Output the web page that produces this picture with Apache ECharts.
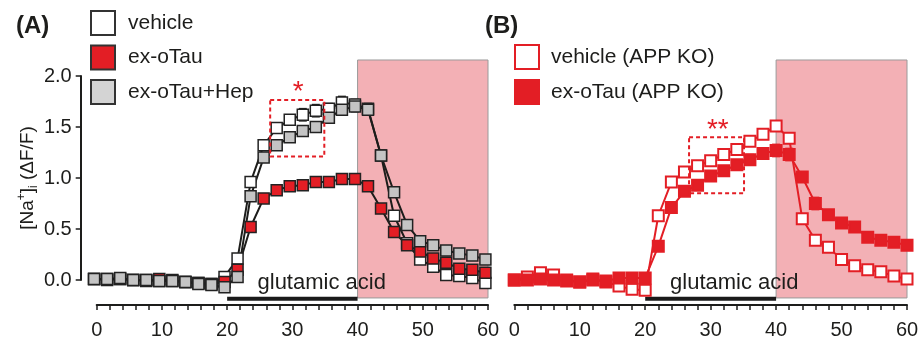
<!DOCTYPE html>
<html><head><meta charset="utf-8">
<script src="https://cdn.jsdelivr.net/npm/echarts@6/dist/echarts.min.js"></script>
<style>html,body{margin:0;padding:0;background:#fff}#c{width:921px;height:346px}</style>
</head><body><div id="c"></div>
<script>
// ---- data ----
const timeA = [-0.4,1.6,3.6,5.6,7.6,9.6,11.6,13.6,15.6,17.6,19.6,21.6,23.6,25.6,27.6,29.6,31.6,33.6,35.6,37.6,39.6,41.6,43.6,45.6,47.6,49.6,51.6,53.6,55.6,57.6,59.6];
const timeB = [0,2,4,6,8,10,12,14,16,18,20,22,24,26,28,30,32,34,36,38,40,42,44,46,48,50,52,54,56,58,60];
const xTicks = [0,10,20,30,40,50,60];
const yTicks = [0.0,0.5,1.0,1.5,2.0];

const vehicleA = [0.01,0.01,0.01,0.00,0.00,-0.01,-0.01,-0.02,-0.03,-0.04,0.03,0.21,0.96,1.32,1.49,1.57,1.62,1.66,1.68,1.74,1.72,1.68,1.22,0.63,0.36,0.20,0.13,0.05,0.04,0.02,-0.03];
const vehicleAErr = [0.01,0.01,0.01,0.01,0.01,0.01,0.01,0.01,0.01,0.01,0.01,0.03,0.04,0.04,0.05,0.05,0.06,0.06,0.05,0.06,0.05,0.05,0.04,0.04,0.03,0.02,0.02,0.02,0.02,0.02,0.02];
const oTauA = [0.01,0.00,0.01,0.00,-0.01,0.01,0.00,-0.02,-0.03,-0.04,-0.02,0.10,0.52,0.80,0.88,0.92,0.93,0.96,0.96,0.99,0.99,0.92,0.70,0.47,0.34,0.28,0.21,0.17,0.11,0.10,0.07];
const oTauAErr = [0.01,0.01,0.01,0.01,0.01,0.01,0.01,0.01,0.01,0.01,0.01,0.02,0.03,0.04,0.04,0.04,0.05,0.05,0.05,0.05,0.05,0.04,0.04,0.03,0.03,0.02,0.02,0.02,0.02,0.02,0.02];
const hepA = [0.01,0.01,0.02,0.00,0.00,-0.01,-0.01,-0.02,-0.04,-0.05,-0.07,0.03,0.82,1.20,1.32,1.40,1.46,1.50,1.59,1.67,1.70,1.67,1.22,0.86,0.54,0.38,0.34,0.29,0.26,0.24,0.20];
const hepAErr = [0.01,0.01,0.01,0.01,0.01,0.01,0.01,0.01,0.01,0.01,0.01,0.02,0.03,0.03,0.03,0.04,0.04,0.04,0.04,0.05,0.05,0.05,0.05,0.03,0.02,0.02,0.02,0.02,0.02,0.02,0.02];

const vehicleB = [0.00,0.03,0.07,0.05,0.00,-0.02,0.01,-0.02,-0.06,-0.09,-0.10,0.63,0.96,1.06,1.12,1.17,1.23,1.28,1.36,1.43,1.51,1.39,0.60,0.39,0.32,0.20,0.14,0.10,0.08,0.04,0.01];
const vehicleBErr = [0.01,0.01,0.01,0.01,0.01,0.01,0.01,0.01,0.01,0.01,0.01,0.02,0.02,0.02,0.02,0.02,0.02,0.02,0.02,0.02,0.03,0.04,0.05,0.04,0.02,0.02,0.02,0.02,0.02,0.02,0.02];
const oTauB = [0.00,0.00,0.01,0.00,-0.01,-0.02,0.00,-0.01,0.02,0.02,0.02,0.33,0.71,0.87,0.93,1.02,1.07,1.13,1.18,1.24,1.27,1.23,1.01,0.75,0.64,0.56,0.52,0.42,0.39,0.37,0.34];
const oTauBErr = [0.01,0.01,0.01,0.01,0.01,0.01,0.01,0.01,0.01,0.01,0.01,0.02,0.03,0.03,0.04,0.04,0.04,0.04,0.05,0.05,0.06,0.06,0.05,0.06,0.03,0.02,0.02,0.02,0.02,0.02,0.02];

const namesA = ['vehicle','ex-oTau','ex-oTau+Hep'];
const namesB = ['vehicle (APP KO)','ex-oTau (APP KO)'];

// ---- build ----
const FONT = 'Liberation Sans, Arial, sans-serif';
const RED = '#e31e25';
const INK = '#1d1d1b';
const pts = (t, v) => t.map((x, i) => [x, v[i]]);
const errPts = (t, v, e) => t.map((x, i) => [x, v[i], e[i]]);

function errRender(color) {
  return function (params, api) {
    const x = api.value(0), y = api.value(1), e = api.value(2);
    const a = api.coord([x, y + e]), b = api.coord([x, y - e]);
    const w = 4, st = {stroke: color, lineWidth: 1.5};
    return {type: 'group', children: [
      {type: 'line', shape: {x1: a[0], y1: a[1], x2: b[0], y2: b[1]}, style: st},
      {type: 'line', shape: {x1: a[0]-w, y1: a[1], x2: a[0]+w, y2: a[1]}, style: st},
      {type: 'line', shape: {x1: b[0]-w, y1: b[1], x2: b[0]+w, y2: b[1]}, style: st}
    ]};
  };
}
function shadeRender(params, api) {
  const p0 = api.coord([api.value(0), api.value(3)]);
  const p1 = api.coord([api.value(1), api.value(2)]);
  return {type: 'rect', shape: {x: p0[0], y: p0[1], width: p1[0]-p0[0], height: p1[1]-p0[1]},
          style: {fill: '#f3b0b5', stroke: '#9a9a9a', lineWidth: 1}};
}
function barRender(params, api) {
  const a = api.coord([api.value(0), api.value(2)]);
  const b = api.coord([api.value(1), api.value(2)]);
  return {type: 'line', shape: {x1: a[0], y1: a[1], x2: b[0], y2: b[1]}, style: {stroke: '#1a1a1a', lineWidth: 4}};
}
function textRender(params, api) {
  const p = api.coord([api.value(0), api.value(1)]);
  const star = api.value(3) === 1;
  return {type: 'text', x: p[0], y: p[1],
    style: {text: api.value(2), fill: star ? RED : INK, fontSize: star ? 28 : 22,
            fontFamily: FONT, align: 'center', verticalAlign: 'middle'}};
}
function boxRender(params, api) {
  const p0 = api.coord([api.value(0), api.value(3)]);
  const p1 = api.coord([api.value(1), api.value(2)]);
  return {type: 'rect', shape: {x: p0[0], y: p0[1], width: p1[0]-p0[0], height: p1[1]-p0[1]},
          style: {fill: 'none', stroke: RED, lineWidth: 2, lineDash: [4, 3]}};
}

function xAxisFor(gi) {
  return {gridIndex: gi, type: 'value', min: 0, max: 60, interval: 2, offset: 25,
    axisLine: {show: true, onZero: false, lineStyle: {color: INK, width: 2}},
    axisTick: {show: true, length: 5, interval: 0, lineStyle: {color: INK, width: 1.5}},
    axisLabel: {interval: 0, margin: 15, fontSize: 20, color: INK, fontFamily: FONT,
      formatter: v => xTicks.indexOf(v) >= 0 ? String(v) : ''},
    splitLine: {show: false}};
}

const lineCommon = {type: 'line', symbol: 'rect', symbolSize: 11, showAllSymbol: true, clip: false, z: 5, animation: false};

const option = {
  animation: false,
  backgroundColor: '#fff',
  title: [
    {text: '(A)', left: 11, top: 9, textStyle: {fontSize: 24, fontWeight: 'bold', color: INK, fontFamily: FONT}},
    {text: '(B)', left: 480, top: 9, textStyle: {fontSize: 24, fontWeight: 'bold', color: INK, fontFamily: FONT}}
  ],
  legend: [
    {left: 90, top: 10, orient: 'vertical', itemWidth: 24, itemHeight: 24, itemGap: 8.5, icon: 'rect', padding: 0,
     textStyle: {fontSize: 21, color: INK, fontFamily: FONT, padding: [0, 0, 0, 8]},
     data: [
       {name: namesA[0], itemStyle: {color: '#fff', borderColor: '#333', borderWidth: 2}},
       {name: namesA[1], itemStyle: {color: RED, borderColor: '#333', borderWidth: 2}},
       {name: namesA[2], itemStyle: {color: '#d4d4d4', borderColor: '#333', borderWidth: 2}}
     ]},
    {left: 514, top: 44, orient: 'vertical', itemWidth: 24, itemHeight: 24, itemGap: 9, icon: 'rect', padding: 0,
     textStyle: {fontSize: 21, color: INK, fontFamily: FONT, padding: [0, 0, 0, 7]},
     data: [
       {name: namesB[0], itemStyle: {color: '#fff', borderColor: RED, borderWidth: 2}},
       {name: namesB[1], itemStyle: {color: RED, borderColor: RED, borderWidth: 2}}
     ]}
  ],
  grid: [
    {left: 96.7, width: 391.3, top: 76, height: 204, containLabel: false, outerBoundsMode: 'none'},
    {left: 514.3, width: 392.7, top: 76, height: 204, containLabel: false, outerBoundsMode: 'none'}
  ],
  xAxis: [xAxisFor(0), xAxisFor(1)],
  yAxis: [
    {gridIndex: 0, type: 'value', min: 0, max: 2, interval: 0.5, offset: 16,
     axisLine: {show: true, onZero: false, lineStyle: {color: INK, width: 2}},
     axisTick: {show: true, length: 5, lineStyle: {color: INK, width: 1.5}},
     axisLabel: {fontSize: 20, color: INK, fontFamily: FONT, margin: 9,
       formatter: v => yTicks.indexOf(v) >= 0 ? v.toFixed(1) : ''},
     splitLine: {show: false},
     name: '{a|[Na}{sup|+}{a|]}{sub|i}{a| (ΔF/F)}', nameLocation: 'middle', nameGap: 40, nameRotate: 90,
     nameTextStyle: {fontFamily: FONT, color: INK, rich: {
       a: {fontSize: 19, fontFamily: FONT, color: INK, lineHeight: 24},
       sup: {fontSize: 12, fontFamily: FONT, color: INK, lineHeight: 24, verticalAlign: 'top', padding: [0,0,10,0]},
       sub: {fontSize: 12, fontFamily: FONT, color: INK, lineHeight: 24, verticalAlign: 'bottom', padding: [8,0,0,0]}
     }}},
    {gridIndex: 1, type: 'value', min: 0, max: 2, interval: 0.5, show: false}
  ],
  series: [
    // panel A decorations
    {type: 'custom', xAxisIndex: 0, yAxisIndex: 0, renderItem: shadeRender, data: [[40, 60, -0.176, 2.157]], z: 0, clip: false, silent: true},
    {type: 'custom', xAxisIndex: 0, yAxisIndex: 0, renderItem: barRender, data: [[20, 40, -0.185]], z: 1, clip: false, silent: true},
    {type: 'custom', xAxisIndex: 0, yAxisIndex: 0, renderItem: textRender, data: [[34.5, -0.03, 'glutamic acid', 0], [30.9, 1.84, '*', 1]], z: 2, clip: false, silent: true},
    {type: 'custom', xAxisIndex: 0, yAxisIndex: 0, renderItem: boxRender, data: [[26.6, 34.9, 1.21, 1.765]], z: 8, clip: false, silent: true},
    // panel B decorations
    {type: 'custom', xAxisIndex: 1, yAxisIndex: 1, renderItem: shadeRender, data: [[40, 60, -0.176, 2.157]], z: 0, clip: false, silent: true},
    {type: 'custom', xAxisIndex: 1, yAxisIndex: 1, renderItem: barRender, data: [[20, 40, -0.185]], z: 1, clip: false, silent: true},
    {type: 'custom', xAxisIndex: 1, yAxisIndex: 1, renderItem: textRender, data: [[33.6, -0.03, 'glutamic acid', 0], [31.1, 1.47, '**', 1]], z: 2, clip: false, silent: true},
    {type: 'custom', xAxisIndex: 1, yAxisIndex: 1, renderItem: boxRender, data: [[26.7, 35.1, 0.85, 1.40]], z: 8, clip: false, silent: true},
    // error bars
    {type: 'custom', name: namesA[0], xAxisIndex: 0, yAxisIndex: 0, renderItem: errRender(INK), data: errPts(timeA, vehicleA, vehicleAErr), z: 3, clip: false, encode: {x: 0, y: 1}},
    {type: 'custom', name: namesA[1], xAxisIndex: 0, yAxisIndex: 0, renderItem: errRender(INK), data: errPts(timeA, oTauA, oTauAErr), z: 3, clip: false, encode: {x: 0, y: 1}},
    {type: 'custom', name: namesA[2], xAxisIndex: 0, yAxisIndex: 0, renderItem: errRender(INK), data: errPts(timeA, hepA, hepAErr), z: 3, clip: false, encode: {x: 0, y: 1}},
    {type: 'custom', name: namesB[0], xAxisIndex: 1, yAxisIndex: 1, renderItem: errRender(RED), data: errPts(timeB, vehicleB, vehicleBErr), z: 3, clip: false, encode: {x: 0, y: 1}},
    {type: 'custom', name: namesB[1], xAxisIndex: 1, yAxisIndex: 1, renderItem: errRender(RED), data: errPts(timeB, oTauB, oTauBErr), z: 3, clip: false, encode: {x: 0, y: 1}},
    // lines
    Object.assign({}, lineCommon, {name: namesA[0], xAxisIndex: 0, yAxisIndex: 0, data: pts(timeA, vehicleA),
      lineStyle: {color: INK, width: 2}, itemStyle: {color: '#fff', borderColor: '#222', borderWidth: 1.5}}),
    Object.assign({}, lineCommon, {name: namesA[1], xAxisIndex: 0, yAxisIndex: 0, data: pts(timeA, oTauA),
      lineStyle: {color: INK, width: 2}, itemStyle: {color: RED, borderColor: '#222', borderWidth: 1.5}}),
    Object.assign({}, lineCommon, {name: namesA[2], xAxisIndex: 0, yAxisIndex: 0, data: pts(timeA, hepA),
      lineStyle: {color: INK, width: 2}, itemStyle: {color: '#c4c4c4', borderColor: '#222', borderWidth: 1.5}}),
    Object.assign({}, lineCommon, {name: namesB[0], xAxisIndex: 1, yAxisIndex: 1, data: pts(timeB, vehicleB),
      lineStyle: {color: RED, width: 2}, itemStyle: {color: '#fff', borderColor: RED, borderWidth: 2}}),
    Object.assign({}, lineCommon, {name: namesB[1], xAxisIndex: 1, yAxisIndex: 1, data: pts(timeB, oTauB),
      lineStyle: {color: RED, width: 2}, itemStyle: {color: RED, borderColor: RED, borderWidth: 2}})
  ]
};
const chart = echarts.init(document.getElementById('c'), null, {renderer: 'canvas'});
chart.setOption(option);
</script>
</body></html>
